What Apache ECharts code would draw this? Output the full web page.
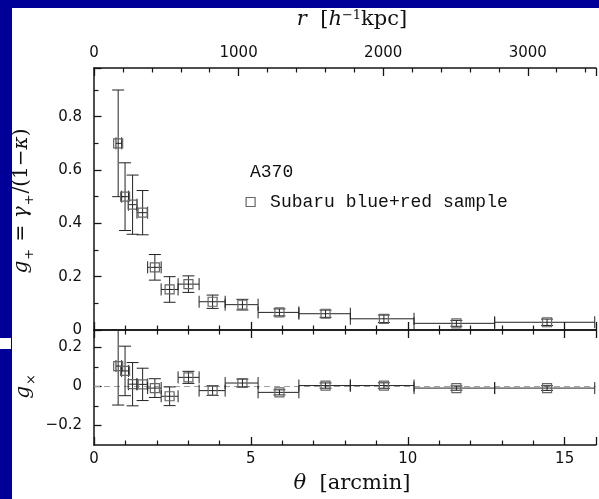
<!DOCTYPE html>
<html><head><meta charset="utf-8">
<script src="https://cdn.jsdelivr.net/npm/echarts@6/dist/echarts.min.js"></script>
<style>html,body{margin:0;padding:0;background:#fff}#c{width:599px;height:499px}</style>
</head><body><div id="c"></div>
<script>
// ---- data ----
const theta  = [0.77, 0.99, 1.23, 1.55, 1.94, 2.41, 3.01, 3.78, 4.73, 5.91, 7.38, 9.24, 11.55, 14.44];
const binLo  = [0.70, 0.88, 1.10, 1.37, 1.71, 2.14, 2.68, 3.35, 4.18, 5.23, 6.53, 8.17, 10.20, 12.77];
const binHi  = [0.88, 1.10, 1.37, 1.71, 2.14, 2.68, 3.35, 4.18, 5.23, 6.53, 8.17, 10.20, 12.77, 15.96];
const gPlus  = [0.70, 0.50, 0.47, 0.44, 0.235, 0.152, 0.172, 0.106, 0.095, 0.066, 0.061, 0.042, 0.025, 0.029];
const gCross = [0.105, 0.08, 0.012, 0.011, -0.008, -0.05, 0.047, -0.021, 0.018, -0.03, 0.005, 0.005, -0.008, -0.008];
const gErr   = [0.20, 0.127, 0.111, 0.083, 0.048, 0.048, 0.031, 0.025, 0.02, 0.013, 0.0135, 0.014, 0.011, 0.012];
const thetaTickLabels = [0, 5, 10, 15];
const rTickLabels = [0, 1000, 2000, 3000];
const gPlusTickValues = [0, 0.2, 0.4, 0.6, 0.8];
const gPlusTickLabels = ['0', '0.2', '0.4', '0.6', '0.8'];
const gCrossTickValues = [-0.2, 0, 0.2];
const gCrossTickLabels = ['\u22120.2', '0', '0.2'];
const gCrossMinorTicks = [-0.1, 0.1];
const zeroLine = [[0, 0], [16, 0]];
const seriesName = 'Subaru blue+red sample';
const clusterName = 'A370';

// ---- setup ----
const TH_MAX = 16, KPC = 217;
const BLUE = '#000099', AX = '#151515', TXT = '#111';
const SANS = 'DejaVu Sans', SERIF = 'DejaVu Serif', MONO = 'Liberation Mono';
const labelFont = {fontFamily: SANS, fontSize: 15, color: TXT};

function pick(vals, labs) {
  return function (v) {
    for (let i = 0; i < vals.length; i++) if (Math.abs(v - vals[i]) < 1e-6) return labs[i];
    return '';
  };
}
const lineSt = {color: AX, width: 1.5};
function xAx(grid, pos, max, interval, showLabel, labelVals) {
  return {
    gridIndex: grid, type: 'value', position: pos, min: 0, max: max, interval: interval,
    axisLine: {show: true, onZero: false, lineStyle: lineSt},
    axisTick: {show: true, inside: true, length: 8, lineStyle: {color: AX, width: 1.3}},
    minorTick: {show: true, splitNumber: 5, length: 4.5, lineStyle: {color: AX, width: 1.2}},
    splitLine: {show: false},
    axisLabel: showLabel ? Object.assign({show: true, margin: 7,
      formatter: pick(labelVals, labelVals.map(String))}, labelFont) : {show: false}
  };
}

const gpData = theta.map((t, i) => [t, gPlus[i], gPlus[i] - gErr[i], gPlus[i] + gErr[i], binLo[i], binHi[i]]);
const gxData = theta.map((t, i) => [t, gCross[i], gCross[i] - gErr[i], gCross[i] + gErr[i], binLo[i], binHi[i]]);

const CAP = 6, SQ = 9;
function renderErr(params, api) {
  const cs = params.coordSys;
  const x = api.value(0), y = api.value(1);
  const c = api.coord([x, y]);
  const pTop = api.coord([x, api.value(3)]);
  const pBot = api.coord([x, api.value(2)]);
  const pL = api.coord([api.value(4), y]);
  const pR = api.coord([api.value(5), y]);
  const y0 = cs.y, y1 = cs.y + cs.height;
  const st = {stroke: '#222', lineWidth: 1, fill: null};
  const ch = [];
  const topY = Math.max(y0, pTop[1]), botY = Math.min(y1, pBot[1]);
  ch.push({type: 'line', shape: {x1: c[0], y1: topY, x2: c[0], y2: botY}, style: st});
  if (pTop[1] >= y0) ch.push({type: 'line', shape: {x1: c[0] - CAP, y1: pTop[1], x2: c[0] + CAP, y2: pTop[1]}, style: st});
  if (pBot[1] <= y1) ch.push({type: 'line', shape: {x1: c[0] - CAP, y1: pBot[1], x2: c[0] + CAP, y2: pBot[1]}, style: st});
  ch.push({type: 'line', shape: {x1: pL[0], y1: c[1], x2: pR[0], y2: c[1]}, style: st});
  ch.push({type: 'line', shape: {x1: pL[0], y1: c[1] - CAP, x2: pL[0], y2: c[1] + CAP}, style: st});
  ch.push({type: 'line', shape: {x1: pR[0], y1: c[1] - CAP, x2: pR[0], y2: c[1] + CAP}, style: st});
  ch.push({type: 'rect', shape: {x: c[0] - SQ / 2, y: c[1] - SQ / 2, width: SQ, height: SQ},
    style: {stroke: '#666', lineWidth: 1.2, fill: null}});
  return {type: 'group', children: ch};
}

const rich = {
  n: {fontFamily: SERIF, fontSize: 21, lineHeight: 25, verticalAlign: 'top', color: TXT},
  i: {fontFamily: SERIF, fontStyle: 'italic', fontSize: 21, lineHeight: 25, verticalAlign: 'top', color: TXT},
  s: {fontFamily: SERIF, fontSize: 13, lineHeight: 13, verticalAlign: 'top', color: TXT},
  b: {fontFamily: SERIF, fontSize: 13, lineHeight: 13, verticalAlign: 'top', padding: [12, 1, 0, 1], color: TXT}
};
const richY = {
  n: {fontFamily: SERIF, fontSize: 20, lineHeight: 24, verticalAlign: 'top', color: TXT},
  i: {fontFamily: SERIF, fontStyle: 'italic', fontSize: 20, lineHeight: 24, verticalAlign: 'top', color: TXT},
  b: {fontFamily: SERIF, fontSize: 13, lineHeight: 13, verticalAlign: 'top', padding: [11, 1, 0, 1], color: TXT}
};
function title(x, y, text, rot, r) {
  return {type: 'text', x: x, y: y, rotation: rot || 0, silent: true,
    style: {text: text, rich: r || rich, align: 'center', verticalAlign: 'middle',
      textAlign: 'center', textVerticalAlign: 'middle', fill: TXT}};
}

const chart = echarts.init(document.getElementById('c'), null, {renderer: 'canvas'});
chart.setOption({
  backgroundColor: '#ffffff',
  animation: false,
  grid: [
    {left: 94, top: 68, width: 517, height: 262},
    {left: 94, top: 330, width: 517, height: 115}
  ],
  xAxis: [
    xAx(0, 'bottom', TH_MAX, 5, false),
    xAx(0, 'top', TH_MAX * KPC, 1000, true, rTickLabels),
    xAx(1, 'bottom', TH_MAX, 5, true, thetaTickLabels),
    xAx(1, 'top', TH_MAX, 5, false)
  ],
  yAxis: [
    {gridIndex: 0, type: 'value', position: 'left', min: 0, max: 0.9825, interval: 0.2,
      axisLine: {show: true, onZero: false, lineStyle: lineSt},
      axisTick: {show: true, inside: true, length: 7.5, lineStyle: {color: AX, width: 1.3}},
      minorTick: {show: true, splitNumber: 2, length: 4.5, lineStyle: {color: AX, width: 1.2}},
      splitLine: {show: false},
      axisLabel: Object.assign({show: true, margin: 12, formatter: pick(gPlusTickValues, gPlusTickLabels)}, labelFont)},
    {gridIndex: 1, type: 'value', position: 'left', min: -0.3, max: 0.29,
      axisLine: {show: true, onZero: false, lineStyle: lineSt},
      axisTick: {show: true, inside: true, length: 7.5, customValues: gCrossTickValues, lineStyle: {color: AX, width: 1.3}},
      splitLine: {show: false},
      axisLabel: Object.assign({show: true, margin: 12, customValues: gCrossTickValues,
        formatter: pick(gCrossTickValues, gCrossTickLabels)}, labelFont)},
    {gridIndex: 1, type: 'value', position: 'left', offset: 0, min: -0.3, max: 0.29,
      axisLine: {show: false},
      axisTick: {show: true, inside: true, length: 4.5, customValues: gCrossMinorTicks, lineStyle: {color: AX, width: 1.2}},
      splitLine: {show: false}, axisLabel: {show: false}}
  ],
  legend: {
    left: 245.5, top: 193, padding: 0, itemWidth: 9, itemHeight: 9, selectedMode: false,
    data: [{name: seriesName, icon: 'rect',
      itemStyle: {color: 'rgba(0,0,0,0)', borderColor: '#666', borderWidth: 1.2}}],
    textStyle: {fontFamily: MONO, fontSize: 18, color: TXT, padding: [0, 0, 0, 10]}
  },
  series: [
    {type: 'line', name: 'zero', xAxisIndex: 2, yAxisIndex: 1, data: zeroLine, symbol: 'none', silent: true, z: 1,
      lineStyle: {color: '#a0a0a0', width: 1, type: [6, 4]}},
    {type: 'custom', name: seriesName, xAxisIndex: 0, yAxisIndex: 0, data: gpData, renderItem: renderErr, z: 3,
      itemStyle: {color: 'rgba(0,0,0,0)', borderColor: '#666'}},
    {type: 'custom', name: 'cross', xAxisIndex: 2, yAxisIndex: 1, data: gxData, renderItem: renderErr, z: 3}
  ],
  graphic: [
    {type: 'rect', shape: {x: 0, y: 0, width: 599, height: 8}, style: {fill: BLUE}, silent: true},
    {type: 'rect', shape: {x: 0, y: 8, width: 12, height: 491}, style: {fill: BLUE}, silent: true},
    {type: 'rect', shape: {x: 0, y: 338, width: 11, height: 11}, style: {fill: '#fff'}, silent: true},
    title(352, 22, '{i|r}{n|  [}{i|h}{s|\u22121}{n|kpc]}'),
    title(352, 486, '{i|\u03b8}{n|  [arcmin]}'),
    title(24, 201, '{i|g}{b|+}{n| = }{i|\u03b3}{b|+}{n|/(1\u2212}{i|\u03ba}{n|)}', Math.PI / 2, richY),
    title(26, 386, '{i|g}{b|\u00d7}', Math.PI / 2, richY),
    {type: 'text', x: 250, y: 172, silent: true,
      style: {text: clusterName, fontFamily: MONO, fontSize: 18, fill: TXT, align: 'left', verticalAlign: 'middle',
        textAlign: 'left', textVerticalAlign: 'middle'}}
  ]
});
</script></body></html>
